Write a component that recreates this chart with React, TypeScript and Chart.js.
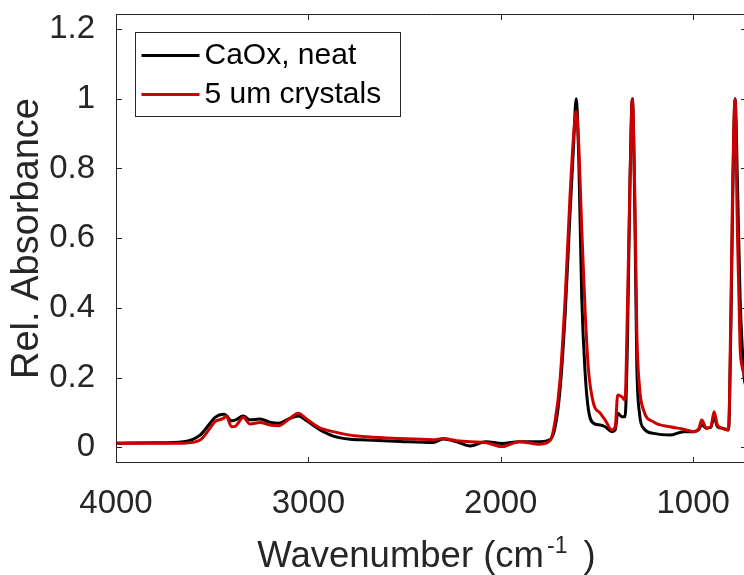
import React, { useEffect, useRef } from 'react';
import { Chart, registerables } from 'chart.js';

Chart.register(...registerables);

// Wavenumber (cm^-1), shared by both spectra
const wavenumbers = [
  3996, 3800, 3650, 3563, 3511, 3485, 3442, 3428, 3399, 3381, 3338, 3304, 3252, 3199, 3156, 3096,
  3052, 3009, 2939, 2870, 2783, 2696, 2523, 2350, 2300, 2229, 2159, 2079, 1992, 1905, 1796, 1743,
  1717, 1692, 1665, 1640, 1622, 1608, 1594, 1579, 1561, 1544, 1518, 1483, 1457, 1423, 1405, 1392,
  1371, 1354, 1342, 1328, 1316, 1303, 1293, 1279, 1258, 1206, 1120, 1050, 998, 972, 955, 932,
  908, 891, 874, 851, 816, 804, 794, 782, 770, 756, 745, 735, 720,
];

// "CaOx, neat"
const neatAbsorbance = [
  0.012, 0.013, 0.016, 0.035, 0.069, 0.086, 0.095, 0.092, 0.076, 0.078, 0.09, 0.079, 0.081, 0.072, 0.069, 0.083,
  0.09, 0.076, 0.05, 0.032, 0.023, 0.021, 0.017, 0.014, 0.024, 0.016, 0.004, 0.016, 0.011, 0.016, 0.016, 0.022,
  0.059, 0.165, 0.385, 0.67, 0.86, 1.0, 0.815, 0.43, 0.21, 0.107, 0.069, 0.064, 0.059, 0.045, 0.05, 0.098,
  0.088, 0.088, 0.289, 0.768, 1.0, 0.67, 0.241, 0.098, 0.055, 0.04, 0.035, 0.045, 0.045, 0.05, 0.064, 0.055,
  0.057, 0.088, 0.059, 0.055, 0.05, 0.337, 0.72, 1.0, 0.768, 0.43, 0.29, 0.2, 0.17,
];

// "5 um crystals"
const crystalAbsorbance = [
  0.012, 0.012, 0.012, 0.021, 0.055, 0.074, 0.083, 0.09, 0.059, 0.06, 0.086, 0.067, 0.071, 0.064, 0.062, 0.083,
  0.098, 0.081, 0.055, 0.045, 0.035, 0.03, 0.025, 0.022, 0.025, 0.019, 0.016, 0.014, 0.002, 0.016, 0.009, 0.02,
  0.078, 0.193, 0.43, 0.72, 0.89, 0.964, 0.86, 0.624, 0.385, 0.222, 0.126, 0.098, 0.078, 0.05, 0.059, 0.15,
  0.145, 0.136, 0.385, 0.768, 1.0, 0.72, 0.337, 0.174, 0.107, 0.073, 0.059, 0.052, 0.045, 0.052, 0.078, 0.055,
  0.059, 0.102, 0.064, 0.055, 0.05, 0.385, 0.768, 1.0, 0.624, 0.29, 0.23, 0.21, 0.19,
];

const seriesLabels = ['CaOx, neat', '5 um crystals'];
const seriesColors = ['#000000', '#cc0000'];

const xTickValues = [1000, 2000, 3000, 4000];
const xTickLabels = ['1000', '2000', '3000', '4000'];
const yTickValues = [0, 0.2, 0.4, 0.6, 0.8, 1, 1.2];
const yTickLabels = ['0', '0.2', '0.4', '0.6', '0.8', '1', '1.2'];

const xTitleMain = 'Wavenumber (cm';
const xTitleSup = '-1';
const xTitleEnd = ')';
const yTitle = 'Rel. Absorbance';

const FONT = '"Liberation Sans", Arial, Helvetica, sans-serif';
const AXIS_COLOR = '#262626';

const framePlugin = {
  id: 'matlabFrame',
  afterDraw(chart: any) {
    const { ctx, chartArea } = chart;
    const { left, right, top, bottom } = chartArea;
    const xs = chart.scales.x;
    const ys = chart.scales.y;
    ctx.save();
    ctx.strokeStyle = AXIS_COLOR;
    ctx.lineWidth = 1;
    ctx.beginPath();
    ctx.rect(left + 0.5, top + 0.5, right - left - 1, bottom - top - 1);
    ctx.stroke();
    const tl = 6;
    ctx.beginPath();
    yTickValues.forEach((v) => {
      const py = Math.round(ys.getPixelForValue(v)) + 0.5;
      ctx.moveTo(left, py);
      ctx.lineTo(left + tl, py);
      ctx.moveTo(right, py);
      ctx.lineTo(right - tl, py);
    });
    xTickValues.forEach((v) => {
      const px = Math.round(xs.getPixelForValue(v)) + 0.5;
      ctx.moveTo(px, bottom);
      ctx.lineTo(px, bottom - tl);
      ctx.moveTo(px, top);
      ctx.lineTo(px, top + tl);
    });
    ctx.stroke();

    // X axis title with superscript
    ctx.fillStyle = AXIS_COLOR;
    ctx.textBaseline = 'alphabetic';
    ctx.textAlign = 'left';
    const mainFont = `36.5px ${FONT}`;
    const supFont = `23px ${FONT}`;
    ctx.font = mainFont;
    const w1 = ctx.measureText(xTitleMain).width;
    const w3 = ctx.measureText(xTitleEnd).width;
    ctx.font = supFont;
    const w2 = ctx.measureText(xTitleSup).width;
    const gapA = 3;
    const gapB = 16;
    const total = w1 + gapA + w2 + gapB + w3;
    const cx = (left + right) / 2 - 5;
    const start = cx - total / 2;
    const base = 566.5;
    ctx.font = mainFont;
    ctx.fillText(xTitleMain, start, base);
    ctx.font = supFont;
    ctx.fillText(xTitleSup, start + w1 + gapA, base - 14);
    ctx.font = mainFont;
    ctx.fillText(xTitleEnd, start + w1 + gapA + w2 + gapB, base);

    // Legend
    const lx = left + 19.5;
    const ly = top + 18.5;
    const lw = 265;
    const lh = 84;
    ctx.fillStyle = '#ffffff';
    ctx.fillRect(lx, ly, lw, lh);
    ctx.strokeStyle = AXIS_COLOR;
    ctx.lineWidth = 1;
    ctx.strokeRect(lx, ly, lw, lh);
    ctx.font = `30px ${FONT}`;
    ctx.textBaseline = 'middle';
    const rows = [ly + 23, ly + 62];
    chart.data.datasets.forEach((ds: any, i: number) => {
      const ry = rows[i];
      ctx.strokeStyle = ds.borderColor;
      ctx.lineWidth = 3;
      ctx.beginPath();
      ctx.moveTo(lx + 6, ry);
      ctx.lineTo(lx + 64, ry);
      ctx.stroke();
      ctx.fillStyle = '#000000';
      ctx.fillText(ds.label, lx + 69, ry);
    });
    ctx.restore();
  },
};

export default function App() {
  const canvasRef = useRef<HTMLCanvasElement | null>(null);

  useEffect(() => {
    const canvas = canvasRef.current;
    if (!canvas) return;
    const makeData = (vals: number[]) => wavenumbers.map((w, i) => ({ x: w, y: vals[i] }));
    const chart = new Chart(canvas, {
      type: 'line',
      data: {
        datasets: [
          {
            label: seriesLabels[0],
            data: makeData(neatAbsorbance),
            borderColor: seriesColors[0],
            backgroundColor: seriesColors[0],
            borderWidth: 3,
            pointRadius: 0,
            cubicInterpolationMode: 'monotone',
            fill: false,
            order: 2,
          },
          {
            label: seriesLabels[1],
            data: makeData(crystalAbsorbance),
            borderColor: seriesColors[1],
            backgroundColor: seriesColors[1],
            borderWidth: 3,
            pointRadius: 0,
            cubicInterpolationMode: 'monotone',
            fill: false,
            order: 1,
          },
        ],
      },
      options: {
        responsive: false,
        animation: false,
        devicePixelRatio: 1,
        layout: { padding: { top: 14, right: 3, left: 0, bottom: 0 } },
        plugins: {
          legend: { display: false },
          tooltip: { enabled: false },
        },
        scales: {
          x: {
            type: 'linear',
            reverse: true,
            min: 720,
            max: 4000,
            grid: { display: false },
            border: { display: false },
            afterBuildTicks: (scale: any) => {
              scale.ticks = xTickValues.map((v) => ({ value: v }));
            },
            afterFit: (scale: any) => {
              scale.height = 112;
              scale.paddingLeft = 0;
              scale.paddingRight = 0;
              scale.paddingTop = 0;
              scale.paddingBottom = 0;
            },
            ticks: {
              autoSkip: false,
              maxRotation: 0,
              padding: 13,
              color: AXIS_COLOR,
              font: { family: FONT, size: 33 },
              callback: (_v: any, i: number) => xTickLabels[i],
            },
          },
          y: {
            type: 'linear',
            min: -0.045,
            max: 1.243,
            grid: { display: false },
            border: { display: false },
            afterBuildTicks: (scale: any) => {
              scale.ticks = yTickValues.map((v) => ({ value: v }));
            },
            afterFit: (scale: any) => {
              scale.width = 116;
              scale.paddingLeft = 0;
              scale.paddingRight = 0;
              scale.paddingTop = 0;
              scale.paddingBottom = 0;
            },
            ticks: {
              autoSkip: false,
              padding: 13,
              color: AXIS_COLOR,
              font: { family: FONT, size: 33 },
              callback: (_v: any, i: number) => yTickLabels[i],
            },
            title: {
              display: true,
              text: yTitle,
              color: AXIS_COLOR,
              font: { family: FONT, size: 38 },
              padding: { top: 5, bottom: 0 },
            },
          },
        },
      },
      plugins: [framePlugin],
    });
    return () => chart.destroy();
  }, []);

  return (
    <div
      style={{
        position: 'fixed',
        left: 0,
        top: 0,
        width: 744,
        height: 575,
        overflow: 'hidden',
        background: '#ffffff',
      }}
    >
      <canvas ref={canvasRef} width={750} height={575} style={{ display: 'block' }} />
    </div>
  );
}
